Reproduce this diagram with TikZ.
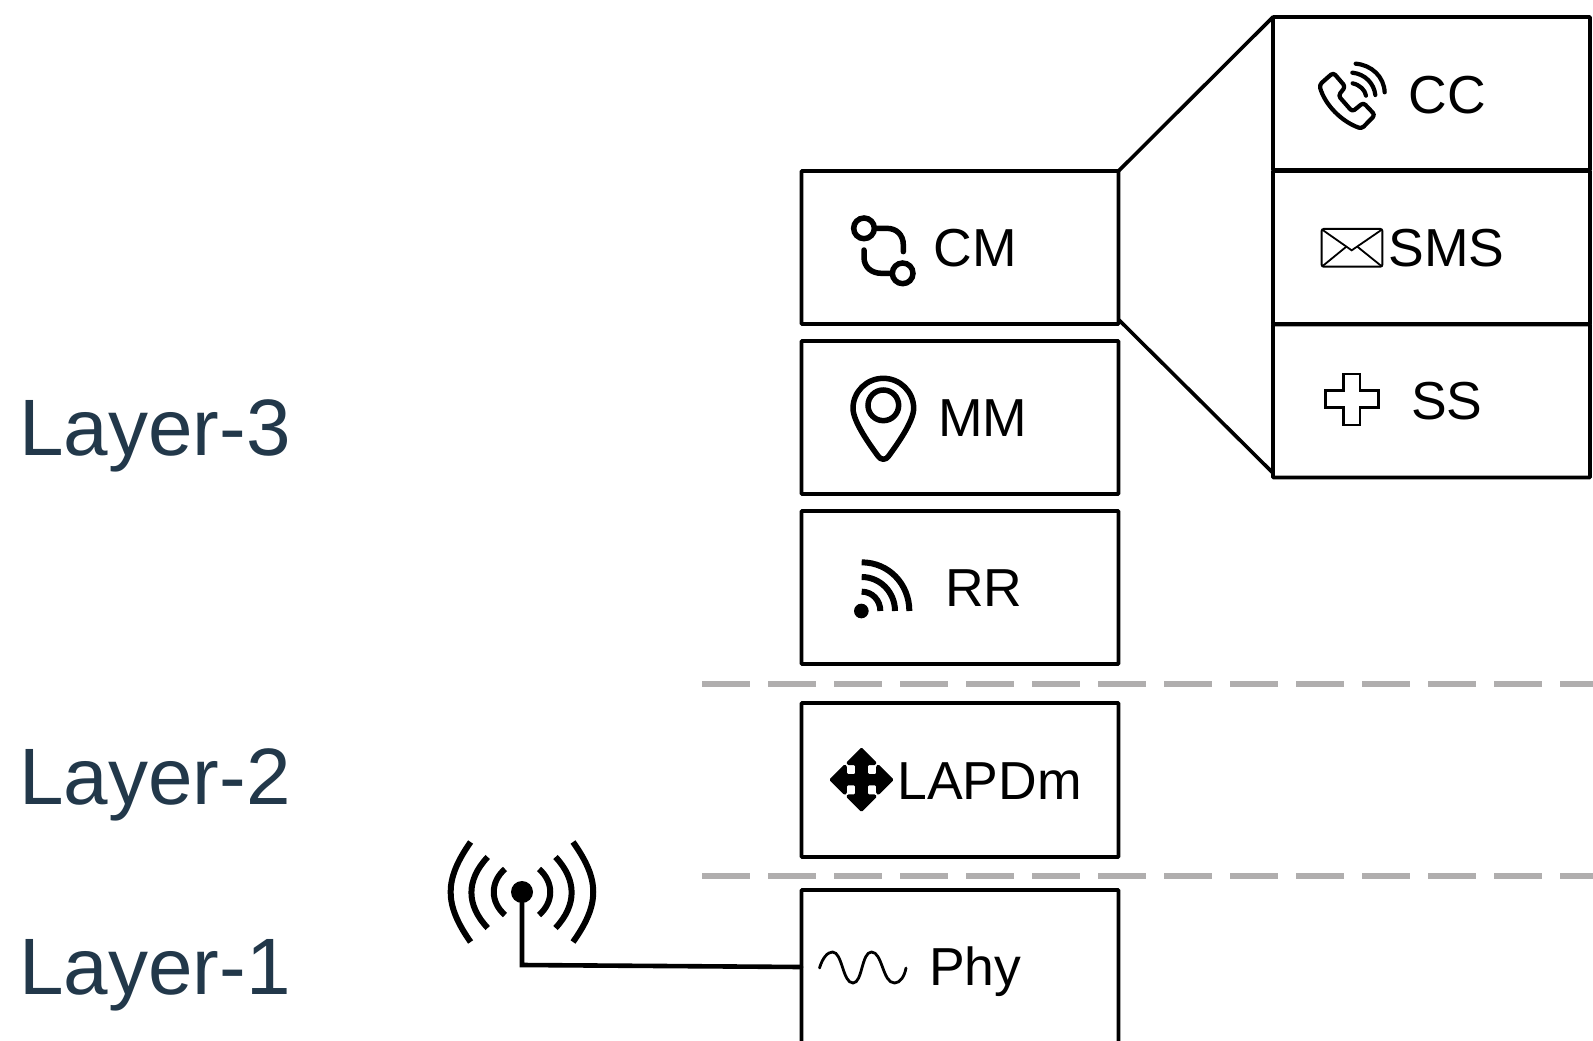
\documentclass[tikz,border=0pt]{standalone}
\usepackage{fontspec}
\setmainfont{Liberation Sans}
\definecolor{layerc}{HTML}{22384A}
\definecolor{dashc}{HTML}{B0AEAE}
\tikzset{
 x=1pt,y=-1pt,
 box/.style={draw=black,line width=3.8pt,fill=white,rounded corners=0.8pt,minimum width=317pt,minimum height=153pt,inner sep=0pt,outer sep=0pt,anchor=north west},
 lab/.style={font=\fontsize{53.5}{53.5}\selectfont,anchor=base west,inner sep=0pt,outer sep=0pt},
 layer/.style={font=\fontsize{80}{80}\selectfont,text=layerc,anchor=base west,inner sep=0pt,outer sep=0pt},
 sep/.style={draw=dashc,line width=6pt,dash pattern=on 48pt off 18pt},
 wire/.style={draw=black,line width=3.6pt},
 ico/.style={draw=black,line width=5.5pt,line cap=round},
}
\begin{document}
\begin{tikzpicture}
\clip (0,0) rectangle (1593,1041);
\fill[white] (0,0) rectangle (1593,1041);
% separators
\coordinate (sa) at (702,684); \coordinate (sb) at (1593,684);
\coordinate (sc) at (702,876); \coordinate (sd) at (1593,876);
\draw[sep] (sa) -- (sb);
\draw[sep] (sc) -- (sd);
% boxes
\node[box] (CM) at (801.5,171) {};
\node[box] (MM) at (801.5,341) {};
\node[box] (RR) at (801.5,511) {};
\node[box,minimum height=154pt] (LAPD) at (801.5,703) {};
\node[box,minimum height=200pt] (PHY) at (801.5,890) {};
\node[box] (CC) at (1273,17) {};
\node[box] (SMS) at (1273,171) {};
\node[box] (SS) at (1273,324.5) {};
% zoom lines
\coordinate (zb) at (1119,320);
\coordinate (zt) at (1273,473);
\draw[wire] (CM.north east) -- (CC.north west);
\draw[wire] (zb) -- (zt);
% labels
\node[lab] (tCC) at (1408.5,113.5) {CC};
\node[lab] (tSMS) at (1388.5,266) {SMS};
\node[lab] (tSS) at (1411,419.5) {SS};
\node[lab] (tCM) at (933.5,266.7) {CM};
\node[lab] (tMM) at (938,436) {MM};
\node[lab] (tRR) at (945,606) {RR};
\node[lab] (tLAPD) at (897.5,799) {LAPDm};
\node[lab] (tPHY) at (929,985) {Phy};
\node[layer] (L3) at (19.5,455.5) {Layer-3};
\node[layer] (L2) at (19.5,804) {Layer-2};
\node[layer] (L1) at (19.5,994) {Layer-1};
% phone
\begin{scope}[shift={(1270,30)},scale=1/3]
\draw[ico,line width=4.2pt,line join=round,rounded corners=3pt] (169,146) -- (190,128) -- (226,170) -- (205,197) -- (247,245) -- (280,218) -- (315,255) -- (275,296) .. controls (215,275) and (165,225) .. (148,165) -- cycle;
\draw[ico,line width=4.2pt] (248,160) .. controls (270,165) and (285,180) .. (288,197);
\draw[ico,line width=4.2pt] (247,128) .. controls (285,132) and (312,160) .. (316,195);
\draw[ico,line width=4.2pt] (257,101) .. controls (305,105) and (342,140) .. (344,187);
% envelope
\draw[ico,line width=2pt,rounded corners=2pt] (155,597) rectangle (337,710);
\draw[ico,line width=1.8pt] (158,600) -- (245,661) -- (334,600);
\draw[ico,line width=1.8pt] (158,708) -- (229,650);
\draw[ico,line width=1.8pt] (334,708) -- (262,650);
% cross
\draw[ico,line width=2.4pt,line cap=butt,line join=miter] (220,1032) -- (270,1032) -- (270,1082) -- (325,1082) -- (325,1132) -- (270,1132) -- (270,1185) -- (220,1185) -- (220,1132) -- (167,1132) -- (167,1082) -- (220,1082) -- cycle;
\end{scope}
% CM icon, pin
\begin{scope}[shift={(800,170)},scale=1/3]
\draw[ico] (192,175) circle[radius=31];
\draw[ico] (308,310) circle[radius=31];
\draw[ico] (225,175) -- (260,175) .. controls (290,175) and (310,195) .. (310,225) -- (310,245);
\draw[ico] (192,240) -- (192,262) .. controls (192,292) and (215,310) .. (245,310) -- (275,310);
\draw[ico,line join=round] (159,715) .. controls (159,665) and (200,625) .. (250,625) .. controls (300,625) and (341,665) .. (341,715) .. controls (341,755) and (290,825) .. (266,858) .. controls (258,871) and (242,871) .. (234,858) .. controls (210,825) and (159,755) .. (159,715) -- cycle;
\draw[ico] (250,706) circle[radius=46];
\end{scope}
% RR icon
\begin{scope}[shift={(800,510)},scale=1/3]
\fill[black] (184,303) circle[radius=22];
\draw[ico,line width=6pt,line cap=butt] (185,245) .. controls (217,245) and (241,271) .. (241,303);
\draw[ico,line width=6pt,line cap=butt] (185,201) .. controls (241,201) and (285,247) .. (285,303);
\draw[ico,line width=6pt,line cap=butt] (185,157) .. controls (266,157) and (328,222) .. (328,303);
\end{scope}
% LAPDm icon
\begin{scope}[shift={(861.5,779.7)},scale=1/3]
\fill[black,rounded corners=1.2pt] (0,-97) -- (46,-51) -- (42,-44) -- (19,-44) -- (19,-17) -- (44,-17) -- (44,-42) -- (51,-46) -- (97,0) -- (51,46) -- (44,42) -- (44,17) -- (19,17) -- (19,44) -- (42,44) -- (46,51) -- (0,97) -- (-46,51) -- (-42,44) -- (-19,44) -- (-19,17) -- (-44,17) -- (-44,42) -- (-51,46) -- (-97,0) -- (-51,-46) -- (-44,-42) -- (-44,-17) -- (-19,-17) -- (-19,-44) -- (-42,-44) -- (-46,-51) -- cycle;
\end{scope}
% sine
\coordinate (s0) at (819.5,968);
\draw[ico,line width=2.8pt] (s0) .. controls (822.5,958) and (827.5,952) .. (832.5,952) .. controls (842.5,952) and (842.5,983) .. (853,983) .. controls (862.5,983) and (861.5,952) .. (871.5,952) .. controls (882.5,952) and (882.5,983) .. (894.5,983) .. controls (900.5,983) and (904.5,976) .. (906,968);
% antenna
\node[circle,fill=black,minimum size=22pt,inner sep=0pt,outer sep=0pt] (dot) at (522,892) {};
\coordinate (knee) at (522,965);
\coordinate (pin) at (801,967);
\draw[wire,line width=4.6pt,line cap=round] (dot) -- (knee) -- (pin);
\begin{scope}[line width=6pt,draw=black]
\draw (470.6,842) .. controls (444,880) and (444,904) .. (470.6,942);
\draw (487.7,857) .. controls (466,880) and (466,905) .. (487.7,928);
\draw (505,869) .. controls (490,882) and (490,902) .. (505,915);
\draw (573,842) .. controls (600,880) and (600,904) .. (573,942);
\draw (555.5,857) .. controls (577,880) and (577,905) .. (555.5,928);
\draw (539,869) .. controls (554,882) and (554,902) .. (539,915);
\end{scope}
\end{tikzpicture}
\end{document}
